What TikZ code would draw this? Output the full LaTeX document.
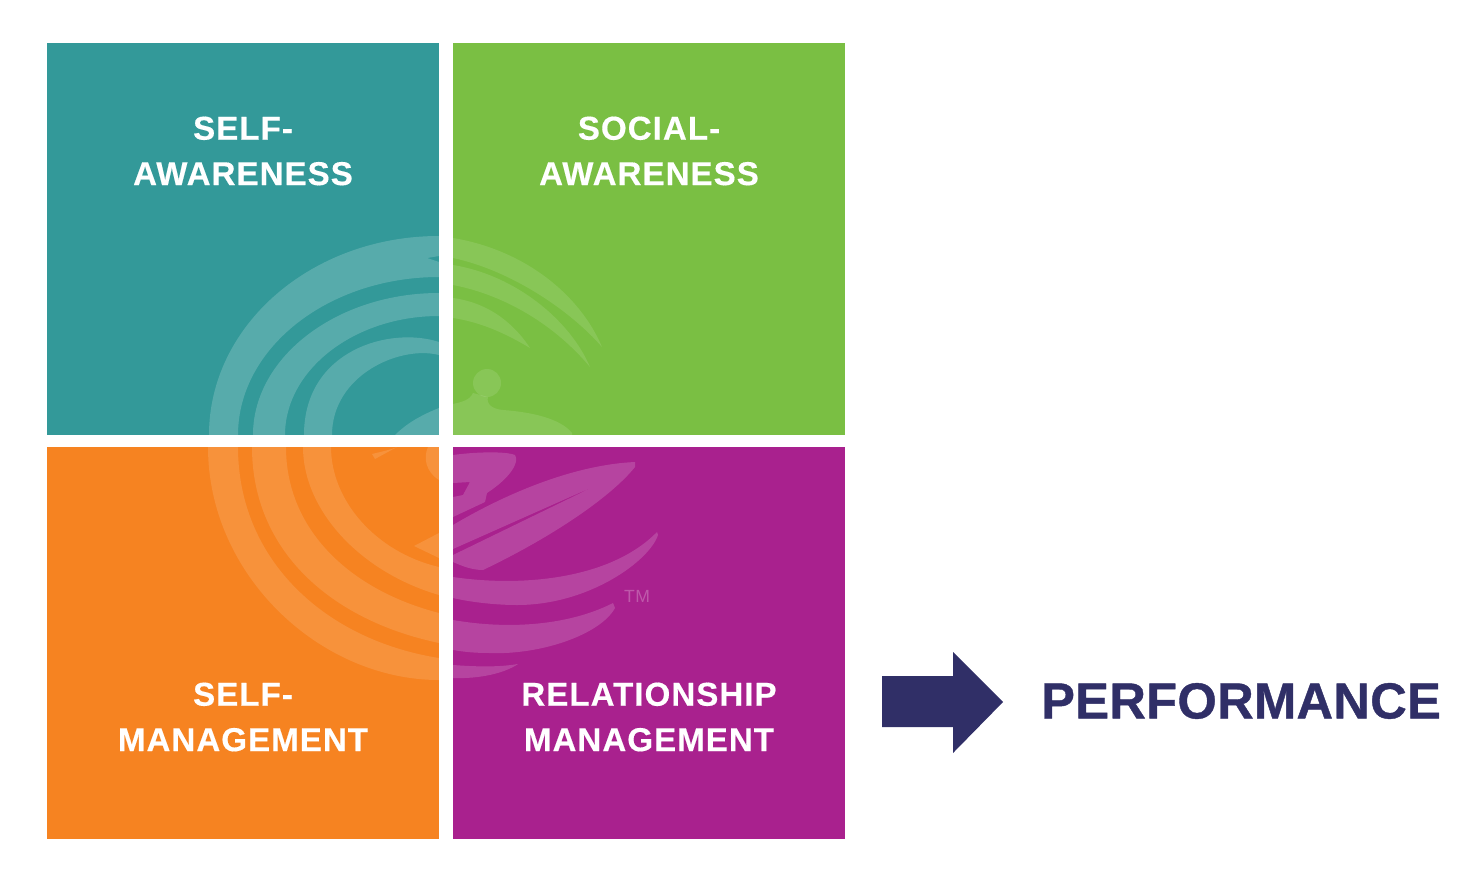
\documentclass[tikz,border=0pt]{standalone}
\usepackage{fontspec}
\setmainfont{Liberation Sans}[LetterSpace=3.2,BoldFeatures={FakeBold=0.4}]
\newfontfamily\perffont{Liberation Sans}[LetterSpace=0.6,BoldFeatures={FakeBold=0.8}]
\definecolor{tealsq}{HTML}{339999}
\definecolor{greensq}{HTML}{7ABF43}
\definecolor{orangesq}{HTML}{F68321}
\definecolor{purplesq}{HTML}{A9218E}
\definecolor{navyarrow}{HTML}{302F67}
\begin{document}
\begin{tikzpicture}[x=0.01cm,y=-0.01cm]
\tikzstyle{quadrant}=[inner sep=0,minimum size=3.92cm]
\tikzstyle{quadtext}=[white,align=center,font=\bfseries\fontsize{9.4}{12.9}\selectfont]
\tikzstyle{swirl}=[fill=white]
\useasboundingbox (0,0) rectangle (1480,870);
% squares
\node[quadrant,fill=tealsq] (selfaware) at (243,239) {};
\node[quadrant,fill=greensq] (socialaware) at (649,239) {};
\node[quadrant,fill=orangesq] (selfmanage) at (243,643) {};
\node[quadrant,fill=purplesq] (relmanage) at (649,643) {};
% rings, top left
\begin{scope}[fill opacity=0.18]
\fill[swirl] (439,236) .. controls (312,236) and (209,325) .. (209,435) -- (238,435) .. controls (238,348) and (328,277) .. (439,277) -- (439,262) -- (427,258) -- (439,256) -- cycle;
\fill[swirl] (439,293) .. controls (337,293) and (253,357) .. (253,435) -- (285,435) .. controls (285,370) and (354,316) .. (439,316) -- cycle;
\fill[swirl] (439,342) .. controls (390,326) and (304,350) .. (304,435) -- (332,435) .. controls (332,375) and (400,345) .. (439,355) -- cycle;
\fill[swirl] (395,435) .. controls (408,422) and (424,414) .. (439,408) -- (439,435) -- cycle;
\end{scope}
% rings, top right
\begin{scope}[fill opacity=0.11]
\fill[swirl] (453,238) .. controls (525,250) and (580,295) .. (602,347) .. controls (570,310) and (510,270) .. (453,258) -- cycle;
\fill[swirl] (453,265) .. controls (515,275) and (570,320) .. (590,367) .. controls (555,325) and (505,295) .. (453,285) -- cycle;
\fill[swirl] (453,298) .. controls (490,303) and (515,325) .. (530,348) .. controls (505,333) and (480,322) .. (453,318) -- cycle;
\fill[swirl] (487,383) circle (14);
\fill[swirl] (453,404) .. controls (462,402) and (470,400) .. (473,393) -- (488,397) .. controls (486,404) and (492,409) .. (503,410) .. controls (530,412) and (560,418) .. (572,433) -- (572,435) -- (453,435) -- cycle;
\end{scope}
% rings, bottom left
\begin{scope}[fill opacity=0.12]
\fill[swirl] (208,447) .. controls (208,575) and (320,680) .. (439,680) -- (439,658) .. controls (325,640) and (238,560) .. (238,447) -- cycle;
\fill[swirl] (252,447) .. controls (252,550) and (330,620) .. (439,643) -- (439,613) .. controls (350,590) and (286,530) .. (286,447) -- cycle;
\fill[swirl] (303,447) .. controls (303,510) and (360,572) .. (439,595) -- (439,567) .. controls (375,552) and (331,500) .. (331,447) -- cycle;
\fill[swirl] (372,454) .. controls (380,452) and (390,450) .. (397,447) -- (375,459) -- cycle;
\fill[swirl] (439,447) -- (428,447) .. controls (423,458) and (426,472) .. (439,480) -- cycle;
\fill[swirl] (414,546) -- (439,533) -- (439,558) -- cycle;
\end{scope}
% rings, bottom right
\begin{scope}[fill opacity=0.16]
\fill[swirl] (453,455) .. controls (475,452) and (505,451) .. (515,455) .. controls (520,462) and (510,478) .. (487,493) -- (485,502) -- (453,517) -- (453,497) -- (463,495) -- (470,482) -- (453,483) -- cycle;
\fill[swirl] (453,525) .. controls (500,497) and (570,465) .. (635,462) -- (635,467) .. controls (610,498) and (550,538) .. (483,570) .. controls (472,570) and (462,566) .. (453,562) -- (453,555) -- (597,485) -- (453,549) -- cycle;
\fill[swirl] (453,577) .. controls (520,587) and (610,580) .. (657,532) -- (658,535) .. controls (650,560) and (590,605) .. (517,605) .. controls (495,605) and (470,602) .. (453,598) -- cycle;
\fill[swirl] (453,620) .. controls (510,630) and (570,625) .. (613,603) -- (615,608) .. controls (600,635) and (540,655) .. (490,653) .. controls (475,653) and (465,652) .. (453,650) -- cycle;
\fill[swirl] (453,665) .. controls (480,667) and (500,667) .. (518,664) .. controls (505,673) and (480,679) .. (453,678) -- cycle;
\node[white,opacity=0.25,font=\fontsize{5}{5}\selectfont] (tmmark) at (637,596) {TM};
\end{scope}
% labels
\node[quadtext] (selfawaretext) at (243,151) {SELF-\\AWARENESS};
\node[quadtext] (socialawaretext) at (649,151) {SOCIAL-\\AWARENESS};
\node[quadtext] (selfmanagetext) at (243,717) {SELF-\\MANAGEMENT};
\node[quadtext] (relmanagetext) at (649,717) {RELATIONSHIP\\MANAGEMENT};
% arrow
\fill[navyarrow] (882,676) -- (953,676) -- (953,652) -- (1003,702) -- (953,753) -- (953,727) -- (882,727) -- cycle;
\node[navyarrow,font=\perffont\bfseries\fontsize{14.4}{16}\selectfont] (performance) at (1241,701) {PERFORMANCE};
\end{tikzpicture}
\end{document}
